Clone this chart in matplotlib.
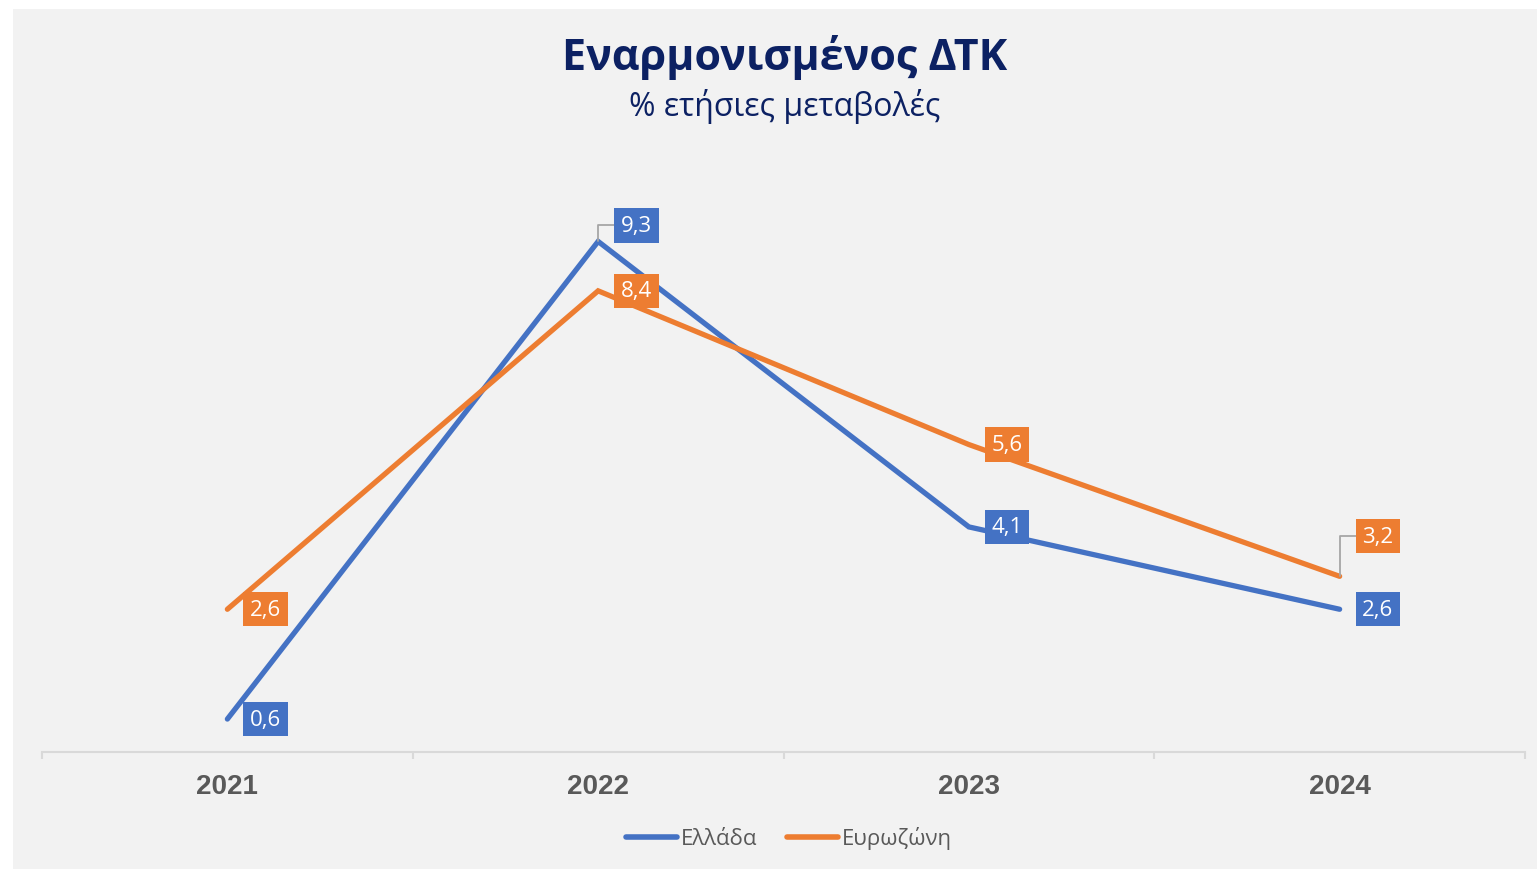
import matplotlib
matplotlib.use("Agg")
import matplotlib.pyplot as plt
from matplotlib.patches import Rectangle

# data
years = ['2021', '2022', '2023', '2024']
greece = [0.6, 9.3, 4.1, 2.6]
eurozone = [2.6, 8.4, 5.6, 3.2]
series_names = ['Ελλάδα', 'Ευρωζώνη']

blue = '#4472C4'
orange = '#ED7D31'
navy = '#0C2163'
grey_text = '#595959'
axis_grey = '#D9D9D9'
leader_grey = '#A6A6A6'

plt.rcParams['font.family'] = ['Open Sans', 'DejaVu Sans']

fig = plt.figure(figsize=(15.37, 8.70), dpi=100, facecolor='white')
fig.patches.append(Rectangle((13 / 1537, 0), 1 - 13 / 1537, 860 / 870,
                             transform=fig.transFigure, facecolor='#F2F2F2',
                             edgecolor='none', zorder=-10))

ax = fig.add_axes([42 / 1537, 117 / 870, 1483 / 1537, 549 / 870])
ax.set_facecolor('none')

x = list(range(len(years)))
ax.plot(x, greece, color=blue, lw=3.8, solid_capstyle='round', solid_joinstyle='miter', zorder=3)
ax.plot(x, eurozone, color=orange, lw=3.8, solid_capstyle='round', solid_joinstyle='miter', zorder=3)

ax.set_xlim(-0.5, 3.5)
ax.set_ylim(0, 10)

# data labels: offsets in points (dx, dy), leader line when moved vertically
offsets_greece = [(27.5, 0), (27.5, 11.5), (27.5, 0), (27.5, 0)]
offsets_euro = [(27.5, 0), (27.5, 0), (27.5, 0), (27.5, 29)]


def add_labels(vals, offs, color):
    for xi, v, (dx, dy) in zip(x, vals, offs):
        kw = {}
        if dy != 0:
            kw['arrowprops'] = dict(arrowstyle='-', color=leader_grey, lw=1.3,
                                    connectionstyle='angle,angleA=0,angleB=90',
                                    shrinkA=0, shrinkB=0)
        ax.annotate(f'{v:.1f}'.replace('.', ','), xy=(xi, v), xytext=(dx, dy),
                    textcoords='offset points', ha='center', va='center',
                    color='white', fontsize=16, zorder=5,
                    bbox=dict(boxstyle='square,pad=0.3', facecolor=color, edgecolor='none'),
                    **kw)


add_labels(greece, offsets_greece, blue)
add_labels(eurozone, offsets_euro, orange)

# axes styling
for s in ['top', 'right', 'left']:
    ax.spines[s].set_visible(False)
ax.spines['bottom'].set_color(axis_grey)
ax.spines['bottom'].set_linewidth(1.5)
ax.set_yticks([])
ax.set_xticks([-0.5, 0.5, 1.5, 2.5, 3.5])
ax.set_xticklabels([])
ax.tick_params(axis='x', length=5, width=1.5, color=axis_grey)
ax.set_xticks(x, minor=True)
ax.set_xticklabels(years, minor=True, fontsize=20, fontweight='bold',
                   color=grey_text, family='Liberation Sans')
ax.tick_params(axis='x', which='minor', length=0, pad=15)

# titles
fig.text(785 / 1537, 1 - 58 / 870, 'Εναρμονισμένος ΔΤΚ', ha='center', va='center',
         fontsize=31, fontweight='bold', color=navy)
fig.text(785 / 1537, 1 - 107 / 870, '% ετήσιες μεταβολές', ha='center', va='center',
         fontsize=23, color=navy)

# legend
leg = fig.legend(ax.lines, series_names, loc='center', bbox_to_anchor=(789 / 1537, 1 - 839 / 870),
                 ncol=2, frameon=False, fontsize=16, handlelength=2.3, handletextpad=0.2,
                 columnspacing=1.3, labelcolor=grey_text)
for h in leg.legend_handles:
    h.set_linewidth(4)
    h.set_solid_capstyle('round')

fig.savefig('out.png', dpi=100, facecolor='white')
